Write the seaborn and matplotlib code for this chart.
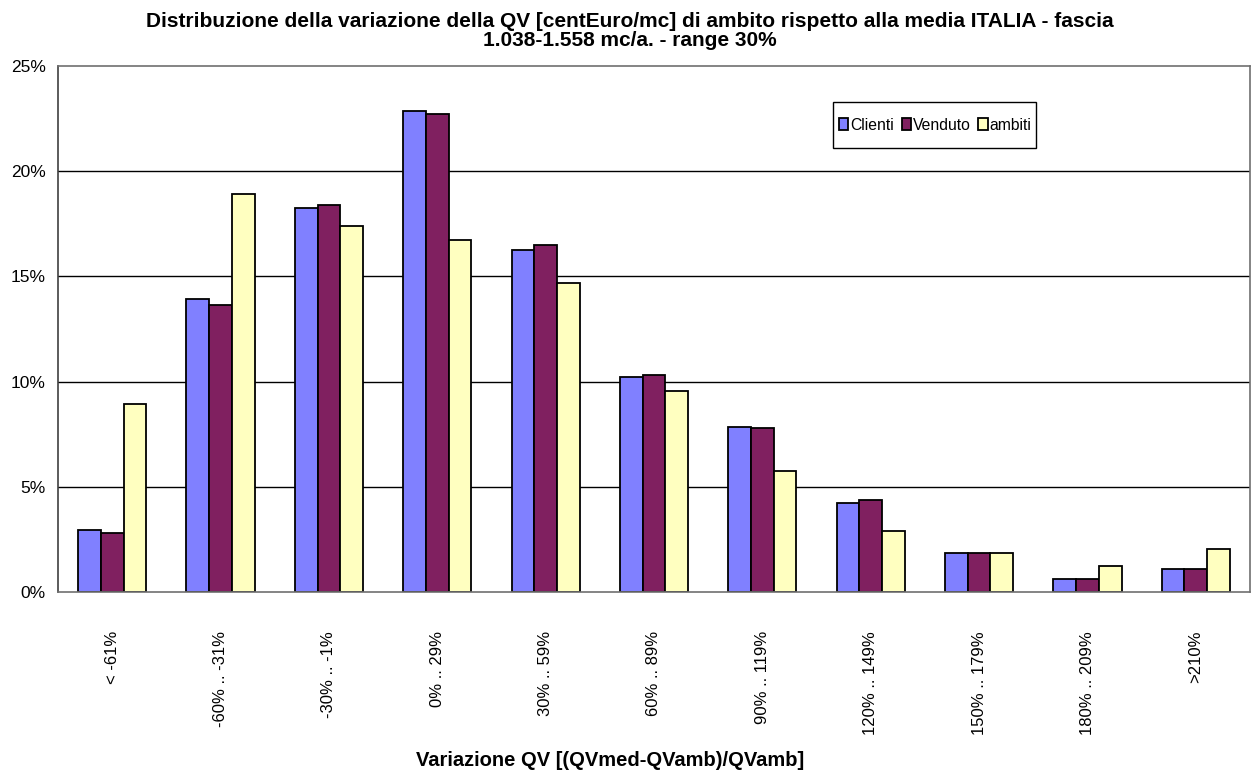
import matplotlib
matplotlib.use("Agg")
import matplotlib.pyplot as plt
from matplotlib.patches import Patch, Rectangle
from matplotlib.ticker import FuncFormatter, FixedLocator
import numpy as np
import pandas as pd
import seaborn as sns

categories = ["< -61%", "-60% .. -31%", "-30% .. -1%", "0% .. 29%", "30% .. 59%",
              "60% .. 89%", "90% .. 119%", "120% .. 149%", "150% .. 179%",
              "180% .. 209%", ">210%"]
clienti = [2.94, 13.91, 18.27, 22.87, 16.27, 10.20, 7.84, 4.22, 1.83, 0.64, 1.07]
venduto = [2.81, 13.64, 18.37, 22.71, 16.51, 10.29, 7.79, 4.35, 1.86, 0.64, 1.10]
ambiti = [8.94, 18.90, 17.40, 16.73, 14.70, 9.55, 5.76, 2.92, 1.86, 1.22, 2.06]
series_names = ["Clienti", "Venduto", "ambiti"]
colors = ["#8080FF", "#802060", "#FFFFC0"]

df = pd.DataFrame({
    "categoria": categories * 3,
    "serie": np.repeat(series_names, len(categories)),
    "valore": clienti + venduto + ambiti,
})

sns.set_style("white")
plt.rcParams["font.family"] = ["Liberation Sans", "DejaVu Sans"]
plt.rcParams.update({"text.color": "black", "axes.labelcolor": "black",
                     "xtick.color": "black", "ytick.color": "black"})

W, H = 1255, 773
fig = plt.figure(figsize=(W / 100, H / 100), dpi=100)
ax = fig.add_axes([58 / W, 1 - 592 / H, (1250 - 58) / W, (592 - 66) / H])

sns.barplot(data=df, x="categoria", y="valore", hue="serie", order=categories,
            hue_order=series_names, palette=colors, width=0.63, gap=0,
            edgecolor="black", linewidth=1.3, saturation=1, legend=False, ax=ax)

ax.set_ylim(0, 25)
ax.set_xlim(-0.5, len(categories) - 0.5)
ax.set_yticks(np.arange(0, 26, 5))
ax.yaxis.set_major_formatter(FuncFormatter(lambda v, p: f"{v:.0f}%"))
for yv in [5, 10, 15, 20]:
    ax.axhline(yv, color="black", linewidth=1, zorder=0)

for sp in ax.spines.values():
    sp.set_visible(True)
    sp.set_color("#707070")
    sp.set_linewidth(1.2)
ax.spines["left"].set_color("#404040")

ax.tick_params(axis="y", which="major", direction="out", length=5, width=1,
               colors="black", labelsize=12.5, pad=4)
ax.tick_params(axis="y", which="major", color="#404040")
ax.tick_params(axis="x", which="major", length=0, labelsize=12, pad=28,
               labelrotation=90)
ax.xaxis.set_minor_locator(FixedLocator(np.arange(0.5, len(categories) - 1, 1.0)))
ax.tick_params(axis="x", which="minor", direction="out", length=5, width=1,
               color="#404040")

ax.set_xlabel("Variazione QV [(QVmed-QVamb)/QVamb]", fontsize=14.5,
              fontweight="bold")
ax.xaxis.set_label_coords((610 - 58) / 1192, (592 - 761) / 526)
ax.xaxis.label.set_va("center")
ax.set_ylabel("")

fig.suptitle("Distribuzione della variazione della QV [centEuro/mc] di ambito rispetto alla media ITALIA - fascia\n1.038-1.558 mc/a. - range 30%",
             x=630 / W, y=1 - 12 / H, va="top",
             fontsize=15, fontweight="bold", linespacing=0.98)

# legend frame and entries
ax.add_patch(Rectangle(((833 - 58) / 1192, (592 - 148) / 526),
                       (1036 - 833) / 1192, (148 - 102) / 526,
                       transform=ax.transAxes, facecolor="white",
                       edgecolor="black", linewidth=1, zorder=5))
handles = [Patch(facecolor=c, edgecolor="black", linewidth=1.3) for c in colors]
leg = ax.legend(handles, series_names, loc="center left",
                bbox_to_anchor=((839 - 58) / 1192, (592 - 125) / 526),
                ncol=3, fontsize=11.3, frameon=False,
                handlelength=0.6, handleheight=0.8, handletextpad=0.1,
                columnspacing=0.5, borderpad=0, borderaxespad=0)
leg.set_zorder(6)

fig.savefig("out.png", dpi=100, facecolor="white")
